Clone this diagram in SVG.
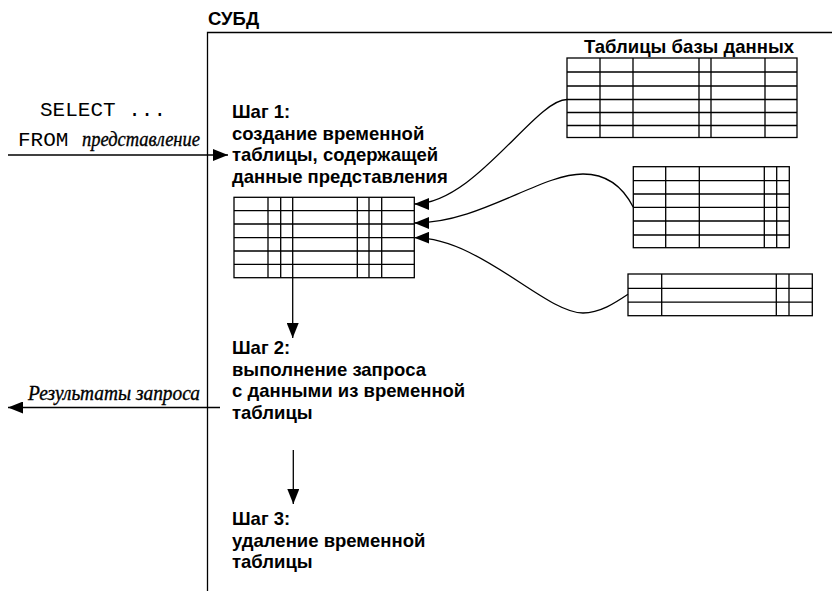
<svg xmlns="http://www.w3.org/2000/svg" width="832" height="593" viewBox="0 0 832 593">
<defs>
<marker id="ah" markerUnits="userSpaceOnUse" markerWidth="15" markerHeight="12" refX="15" refY="6" orient="auto" viewBox="0 0 15 12">
<path d="M0,0 L15,6 L0,12 z" fill="#000"/>
</marker>
<style>
.t{font-family:"Liberation Sans",Arial,sans-serif;font-weight:bold;font-size:18.5px;fill:#000}
.m{font-family:"Liberation Mono","Courier New",monospace;font-size:21px;fill:#000}
.i{font-family:"Liberation Serif","Times New Roman",serif;font-style:italic;font-size:20px;fill:#000;stroke:#000;stroke-width:0.35}
.g{fill:#fff;stroke:#000;stroke-width:1.3}
.l{stroke:#000;stroke-width:1.3;fill:none}
.c{stroke:#000;stroke-width:1.3;fill:none;marker-end:url(#ah)}
</style>
</defs>
<rect width="832" height="593" fill="#fff"/>
<g id="dbms">
<path class="l" d="M207.5,591 V32.5 H832"/>
<text class="t" x="208" y="25">СУБД</text>
</g>
<g id="query">
<text class="m" x="40" y="116">SELECT ...</text>
<text class="m" x="18" y="146">FROM</text>
<text class="i" x="82" y="146" textLength="118" lengthAdjust="spacingAndGlyphs">представление</text>
</g>
<g id="step1">
<text class="t"><tspan x="232" y="118">Шаг 1:</tspan><tspan x="232" y="139.5">создание временной</tspan><tspan x="232" y="161">таблицы, содержащей</tspan><tspan x="232" y="182.5">данные представления</tspan></text>
</g>
<g id="temp-table">
<rect class="g" x="234" y="197.3" width="180.3" height="80.4"/>
<path class="l" d="M234,210.7 H414.3 M234,224 H414.3 M234,237.7 H414.3 M234,251 H414.3 M234,264.3 H414.3 M268,197.3 V277.7 M280.7,197.3 V277.7 M292.7,197.3 V277.7 M357.3,197.3 V277.7 M369,197.3 V277.7 M381.7,197.3 V277.7"/>
</g>
<g id="db-tables">
<text class="t" x="689" y="53" text-anchor="middle">Таблицы базы данных</text>
<g id="table1">
<rect class="g" x="567" y="58" width="230" height="79.5"/>
<path class="l" d="M567,72 H797 M567,86 H797 M567,99.5 H797 M567,112.5 H797 M567,125.5 H797 M600,58 V137.5 M633,58 V137.5 M699,58 V137.5 M711,58 V137.5 M765,58 V137.5"/>
</g>
<g id="table2">
<rect class="g" x="633.3" y="166.7" width="156" height="81"/>
<path class="l" d="M633.3,180.7 H789.3 M633.3,194 H789.3 M633.3,207.3 H789.3 M633.3,221 H789.3 M633.3,235 H789.3 M665.7,166.7 V247.7 M699.3,166.7 V247.7 M764.3,166.7 V247.7 M776.7,166.7 V247.7"/>
</g>
<g id="table3">
<rect class="g" x="628" y="274" width="184.3" height="41.7"/>
<path class="l" d="M628,288.3 H812.3 M628,302.2 H812.3 M661.7,274 V315.7 M776.3,274 V315.7 M789,274 V315.7"/>
</g>
</g>
<g id="step2">
<text class="t"><tspan x="232" y="354">Шаг 2:</tspan><tspan x="232" y="375.5">выполнение запроса</tspan><tspan x="232" y="397">с данными из временной</tspan><tspan x="232" y="418.5">таблицы</tspan></text>
</g>
<g id="result">
<text class="i" x="28" y="400" textLength="172" lengthAdjust="spacingAndGlyphs">Результаты запроса</text>
</g>
<g id="step3">
<text class="t"><tspan x="232" y="525">Шаг 3:</tspan><tspan x="232" y="546.5">удаление временной</tspan><tspan x="232" y="568">таблицы</tspan></text>
</g>
<g id="connectors">
<path class="c" d="M8,155 H228"/>
<path class="c" d="M567,99.5 C535,99.5 475,204 414.3,204"/>
<path class="c" d="M633.3,207.3 C622,185 605,174 583,174 C540,174 480,223 414.3,223"/>
<path class="c" d="M628,294.3 C615,303 600,313 583,313 C545,313 480,237.7 414.3,237.7"/>
<path class="c" d="M292.7,277.7 V338"/>
<path class="c" d="M220,407.5 H8"/>
<path class="c" d="M293.3,450 V504"/>
</g>
</svg>
